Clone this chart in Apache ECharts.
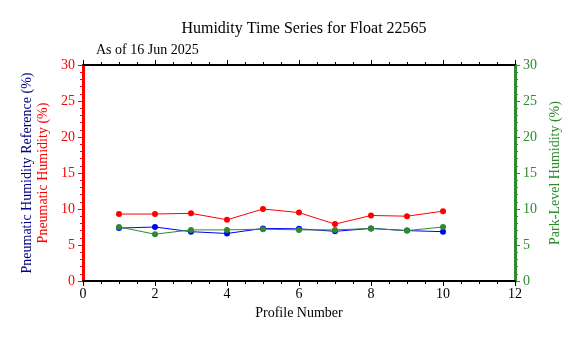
<!DOCTYPE html>
<html>
<head>
<meta charset="utf-8">
<script src="https://cdn.jsdelivr.net/npm/echarts@6/dist/echarts.min.js"></script>
<style>
  html, body { margin: 0; padding: 0; background: #fff; }
  #chart { width: 577px; height: 338px; }
</style>
</head>
<body>
<div id="chart"></div>
<script>
// Profile numbers along the x axis
const profiles = [1, 2, 3, 4, 5, 6, 7, 8, 9, 10];
// Humidity readings (%) per profile
const pneumaticHumidity = [9.3, 9.3, 9.4, 8.5, 10.0, 9.5, 7.9, 9.1, 9.0, 9.7];
const pneumaticReference = [7.35, 7.5, 6.85, 6.6, 7.3, 7.25, 6.9, 7.3, 7.0, 6.85];
const parkLevelHumidity = [7.5, 6.5, 7.1, 7.1, 7.2, 7.1, 7.1, 7.3, 7.0, 7.5];

const FONT = '"Liberation Serif", "DejaVu Serif", serif';
const RED = '#ff0000';
const BLUE = '#0000ff';
const NAVY = '#000080';
const GREEN = '#2e8b2e';

const pairs = (ys) => profiles.map((x, i) => [x, ys[i]]);

const chart = echarts.init(document.getElementById('chart'), null, { renderer: 'canvas' });

const humidityAxis = (extra) => Object.assign({
  type: 'value', min: 0, max: 30, interval: 5,
  splitLine: { show: false },
  nameLocation: 'middle'
}, extra);

const profileAxis = (extra) => Object.assign({
  type: 'value', min: 0, max: 12, interval: 2,
  axisLine: { onZero: false, lineStyle: { color: '#000', width: 2 } },
  axisTick: { inside: false, length: 5, lineStyle: { color: '#000' } },
  minorTick: { show: true, splitNumber: 4, length: 3, lineStyle: { color: '#000' } },
  splitLine: { show: false }
}, extra);

chart.setOption({
  animation: false,
  backgroundColor: '#fff',
  title: [
    { text: 'Humidity Time Series for Float 22565', left: 299, top: 16, textAlign: 'center',
      textStyle: { fontFamily: FONT, fontSize: 16, fontWeight: 'normal', color: '#000' } },
    { text: 'As of 16 Jun 2025', left: 91, top: 38,
      textStyle: { fontFamily: FONT, fontSize: 14, fontWeight: 'normal', color: '#000' } }
  ],
  grid: { left: 83, right: 62, top: 65, bottom: 57, containLabel: false },
  xAxis: [
    profileAxis({ position: 'bottom',
      name: 'Profile Number', nameLocation: 'middle', nameGap: 25,
      nameTextStyle: { fontFamily: FONT, fontSize: 14, color: '#000' },
      axisLabel: { fontFamily: FONT, fontSize: 14, color: '#000', margin: 6 } }),
    profileAxis({ position: 'top', axisLabel: { show: false } })
  ],
  yAxis: [
    humidityAxis({
      position: 'left', name: 'Pneumatic Humidity (%)', nameGap: 29,
      nameTextStyle: { fontFamily: FONT, fontSize: 14, color: RED },
      axisLine: { show: true, onZero: false, lineStyle: { color: RED, width: 3 } },
      axisTick: { show: true, inside: false, length: 5, lineStyle: { color: RED } },
      minorTick: { show: true, splitNumber: 5, length: 3, lineStyle: { color: RED } },
      axisLabel: { fontFamily: FONT, fontSize: 14, color: RED, margin: 8 }
    }),
    humidityAxis({
      position: 'right', name: 'Park-Level Humidity (%)', nameGap: 31,
      nameTextStyle: { fontFamily: FONT, fontSize: 14, color: GREEN },
      axisLine: { show: true, onZero: false, lineStyle: { color: GREEN, width: 3 } },
      axisTick: { show: true, inside: false, length: 5, lineStyle: { color: GREEN } },
      minorTick: { show: true, splitNumber: 5, length: 3, lineStyle: { color: GREEN } },
      axisLabel: { fontFamily: FONT, fontSize: 14, color: GREEN, margin: 8 }
    }),
    humidityAxis({
      position: 'left', name: 'Pneumatic Humidity Reference (%)', nameGap: 49,
      nameTextStyle: { fontFamily: FONT, fontSize: 14, color: NAVY },
      axisLine: { show: false, onZero: false }, axisTick: { show: false },
      minorTick: { show: false }, axisLabel: { show: false }
    })
  ],
  series: [
    { name: 'Pneumatic Humidity', type: 'line', xAxisIndex: 0, yAxisIndex: 0,
      data: pairs(pneumaticHumidity), symbol: 'circle', symbolSize: 6,
      lineStyle: { color: RED, width: 1 }, itemStyle: { color: RED } },
    { name: 'Pneumatic Humidity Reference', type: 'line', xAxisIndex: 0, yAxisIndex: 2,
      data: pairs(pneumaticReference), symbol: 'circle', symbolSize: 6,
      lineStyle: { color: BLUE, width: 1 }, itemStyle: { color: BLUE } },
    { name: 'Park-Level Humidity', type: 'line', xAxisIndex: 0, yAxisIndex: 1,
      data: pairs(parkLevelHumidity), symbol: 'circle', symbolSize: 6,
      lineStyle: { color: GREEN, width: 1 }, itemStyle: { color: GREEN } }
  ]
});
</script>
</body>
</html>
